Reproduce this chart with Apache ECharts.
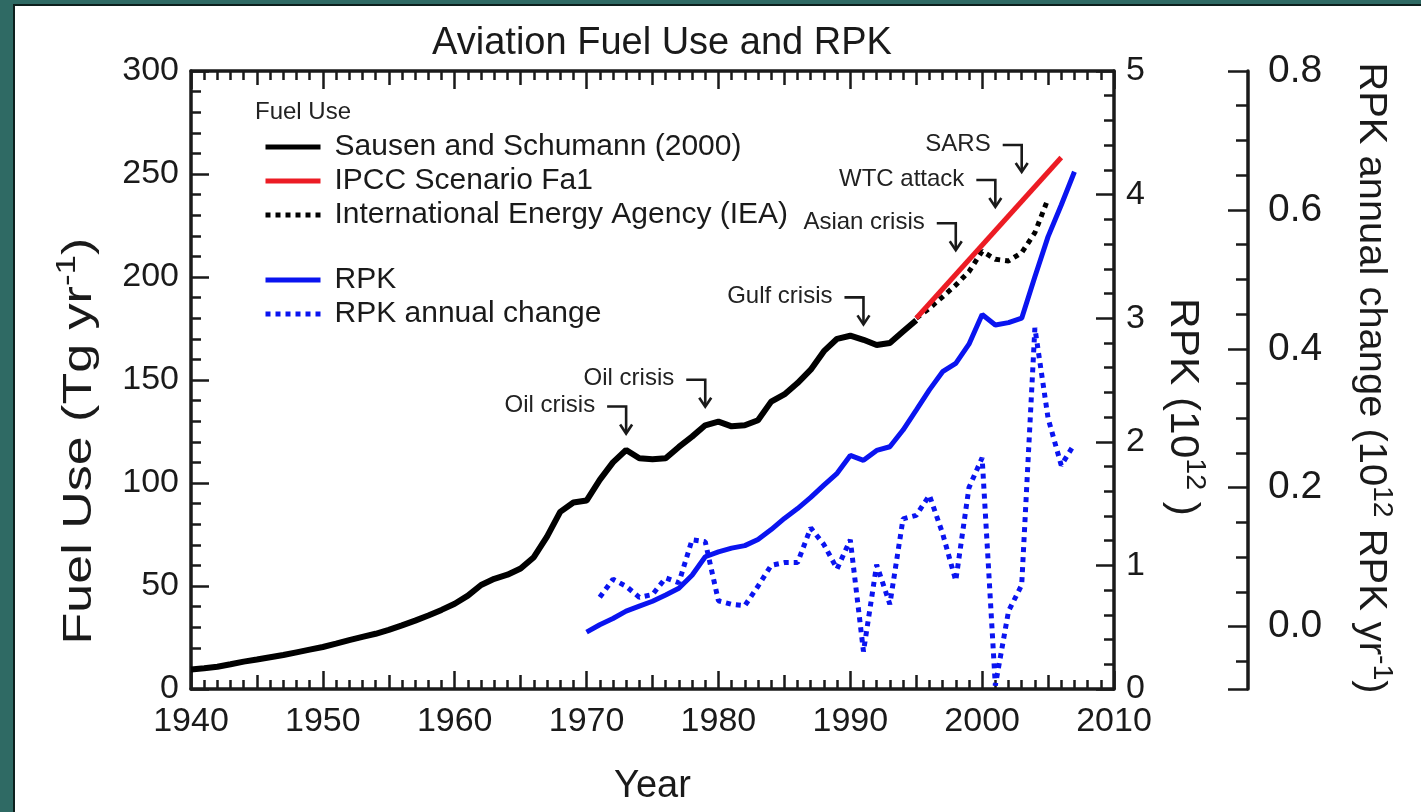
<!DOCTYPE html>
<html>
<head>
<meta charset="utf-8">
<title>Aviation Fuel Use and RPK</title>
<script src="https://cdn.jsdelivr.net/npm/echarts@6/dist/echarts.min.js"></script>
<style>
  html, body { margin: 0; padding: 0; background: #2f6a64; }
  #main { width: 1421px; height: 812px; }
</style>
</head>
<body>
<div id="main"></div>
<script>
// values
var fuelYears = [1940, 1941, 1942, 1943, 1944, 1945, 1946, 1947, 1948, 1949,
  1950, 1951, 1952, 1953, 1954, 1955, 1956, 1957, 1958, 1959,
  1960, 1961, 1962, 1963, 1964, 1965, 1966, 1967, 1968, 1969,
  1970, 1971, 1972, 1973, 1974, 1975, 1976, 1977, 1978, 1979,
  1980, 1981, 1982, 1983, 1984, 1985, 1986, 1987, 1988, 1989,
  1990, 1991, 1992, 1993, 1994, 1995];
var fuelSausen = [9.5, 10.1, 10.8, 12.0, 13.3, 14.3, 15.4, 16.5, 17.8, 19.1,
  20.4, 22.0, 23.7, 25.3, 26.8, 28.7, 30.9, 33.2, 35.7, 38.4,
  41.4, 45.3, 50.5, 53.5, 55.5, 58.5, 64, 74, 86, 90.5,
  91.5, 101.5, 110, 116, 112, 111.5, 112, 117.5, 122.5, 128,
  129.8, 127.5, 128, 130.5, 139.5, 143, 148.5, 155, 164, 170,
  171.5, 169.5, 167, 168, 173.5, 179];

var ipccYears = [1995, 2006];
var ipccFa1 = [180, 258];

var ieaYears = [1995, 1996, 1997, 1998, 1999, 2000, 2001, 2002, 2003, 2004, 2005];
var ieaFuel = [180, 184.8, 190.4, 196.1, 202.6, 212.5, 208.6, 207.8, 211.8, 221.5, 238];

var rpkYears = [1970, 1971, 1972, 1973, 1974, 1975, 1976, 1977, 1978, 1979,
  1980, 1981, 1982, 1983, 1984, 1985, 1986, 1987, 1988, 1989,
  1990, 1991, 1992, 1993, 1994, 1995, 1996, 1997, 1998, 1999,
  2000, 2001, 2002, 2003, 2004, 2005, 2006, 2007];
var rpk = [0.46, 0.52, 0.57, 0.63, 0.67, 0.71, 0.76, 0.815, 0.92, 1.07,
  1.11, 1.14, 1.16, 1.21, 1.29, 1.38, 1.46, 1.55, 1.65, 1.745,
  1.89, 1.85, 1.93, 1.96, 2.095, 2.257, 2.42, 2.567, 2.635, 2.79,
  3.03, 2.945, 2.964, 3.0, 3.336, 3.66, 3.916, 4.185];

var changeYears = [1971, 1972, 1973, 1974, 1975, 1976, 1977, 1978, 1979,
  1980, 1981, 1982, 1983, 1984, 1985, 1986, 1987, 1988, 1989,
  1990, 1991, 1992, 1993, 1994, 1995, 1996, 1997, 1998, 1999,
  2000, 2001, 2002, 2003, 2004, 2005, 2006, 2007];
var rpkChange = [0.042, 0.068, 0.058, 0.042, 0.046, 0.070, 0.063, 0.125, 0.122,
  0.037, 0.032, 0.030, 0.058, 0.088, 0.092, 0.092, 0.142, 0.118, 0.083,
  0.125, -0.036, 0.089, 0.032, 0.155, 0.160, 0.189, 0.134, 0.066, 0.200,
  0.243, -0.085, 0.022, 0.060, 0.430, 0.300, 0.232, 0.263];

var eventNames = ['Oil crisis', 'Oil crisis', 'Gulf crisis', 'Asian crisis', 'WTC attack', 'SARS'];
var eventYears = [1973, 1979, 1991, 1998, 2001, 2003];
var eventFuel = [124, 137, 177, 213, 234, 251];

var changeLabels = [0, 0.2, 0.4, 0.6, 0.8];
var changeMinorTicks = [-0.05, 0.05, 0.1, 0.15, 0.25, 0.3, 0.35, 0.45, 0.5, 0.55, 0.65, 0.7, 0.75];

var FONT = '"Liberation Sans", Arial, Helvetica, sans-serif';
var INK = '#1a1a1a';

function pairs(xs, ys) {
  return xs.map(function (x, i) { return [x, ys[i]]; });
}

var chart = echarts.init(document.getElementById('main'), null, { renderer: 'canvas' });

var axisLine = { show: true, onZero: false, lineStyle: { color: INK, width: 3.5 } };
var noLine = { show: false, onZero: false };
function tick(len) {
  return { show: true, inside: true, length: len, lineStyle: { color: INK, width: 2.5 } };
}
function minor(len, n) {
  return { show: true, splitNumber: n, length: len, lineStyle: { color: INK, width: 2.5 } };
}
var tickLabel = { fontSize: 34, color: INK, fontFamily: FONT };

// main year axes (10 y ticks + yearly minors) live in grid 0,
// the 5-year mid ticks come from a twin grid laid exactly on top
function yearAxis(pos, step, main) {
  return {
    type: 'value', gridIndex: main ? 0 : 1, position: pos, min: 1940, max: 2010, interval: step,
    axisLine: main ? axisLine : noLine,
    axisTick: tick(main ? 18 : 14),
    minorTick: main ? minor(9, 10) : { show: false },
    splitLine: { show: false },
    axisLabel: (main && pos === 'bottom') ? Object.assign({ margin: 16, formatter: function (v) { return String(v); } }, tickLabel) : { show: false },
    name: (main && pos === 'bottom') ? 'Year' : '',
    nameLocation: 'middle', nameGap: 79,
    nameTextStyle: { fontSize: 38, color: INK, fontFamily: FONT }
  };
}

function renderEvent(params, api) {
  var p = api.coord([api.value(0), api.value(1)]);
  var bendY = p[1] - 27;
  var line = { stroke: INK, lineWidth: 2.6, fill: null };
  return {
    type: 'group',
    children: [
      { type: 'polyline', shape: { points: [[p[0] - 19, bendY], [p[0], bendY], [p[0], p[1] - 1]] }, style: line },
      { type: 'polyline', shape: { points: [[p[0] - 6, p[1] - 9], [p[0], p[1]], [p[0] + 6, p[1] - 9]] }, style: line },
      { type: 'text', x: p[0] - 31, y: bendY - 1,
        style: { text: eventNames[params.dataIndex], fontSize: 24, fontFamily: FONT, fill: '#222', align: 'right', verticalAlign: 'middle' } }
    ]
  };
}

var legendBase = {
  orient: 'vertical', left: 258, itemWidth: 55, itemHeight: 14, itemGap: 4,
  selectedMode: false,
  lineStyle: { width: 5 },
  itemStyle: { opacity: 0 },
  textStyle: { fontSize: 30, lineHeight: 30, color: INK, fontFamily: FONT, padding: [0, 0, 0, 9] }
};

var supStyle = { fontSize: 27, lineHeight: 27, verticalAlign: 'top', fontFamily: FONT, fill: INK };

var gridBox = { left: 191, top: 71, width: 923, height: 618, containLabel: false, outerBoundsMode: 'none' };

var option = {
  animation: false,
  title: {
    text: 'Aviation Fuel Use and RPK',
    left: 657, top: 20, textAlign: 'center',
    textStyle: { fontSize: 38, fontWeight: 'normal', color: INK, fontFamily: FONT }
  },
  legend: [
    Object.assign({ top: 127, data: ['Sausen and Schumann (2000)', 'IPCC Scenario Fa1', 'International Energy Agency (IEA)'] }, legendBase),
    Object.assign({ top: 260, data: ['RPK', 'RPK annual change'] }, legendBase)
  ],
  grid: [gridBox, Object.assign({}, gridBox)],
  graphic: [
    { type: 'rect', z: -10, silent: true, x: 14, y: 5, shape: { width: 1420, height: 820 },
      style: { fill: '#ffffff', stroke: '#0d1f1d', lineWidth: 2 } },
    { type: 'text', x: 255, y: 112, silent: true,
      style: { text: 'Fuel Use', fontSize: 24, fontFamily: FONT, fill: '#222', verticalAlign: 'middle' } },
    { type: 'text', x: 80, y: 441, rotation: Math.PI / 2, scaleX: 1.3, silent: true,
      style: { text: 'Fuel Use (Tg yr{sup|-1})', fontSize: 40, lineHeight: 52, fontFamily: FONT, fill: INK,
        align: 'center', verticalAlign: 'middle', rich: { sup: supStyle } } },
    { type: 'text', x: 1182, y: 407, rotation: -Math.PI / 2, scaleX: 1.06, silent: true,
      style: { text: 'RPK (10{sup|12} )', fontSize: 40, lineHeight: 52, fontFamily: FONT, fill: INK,
        align: 'center', verticalAlign: 'middle', rich: { sup: supStyle } } },
    { type: 'text', x: 1370, y: 378, rotation: -Math.PI / 2, scaleX: 1.05, silent: true,
      style: { text: 'RPK annual change (10{sup|12} RPK yr{sup|-1})', fontSize: 38, lineHeight: 50, fontFamily: FONT, fill: INK,
        align: 'center', verticalAlign: 'middle', rich: { sup: supStyle } } }
  ],
  xAxis: [
    yearAxis('bottom', 10, true),
    yearAxis('top', 10, true),
    yearAxis('bottom', 5, false),
    yearAxis('top', 5, false)
  ],
  yAxis: [
    {
      type: 'value', position: 'left', min: 0, max: 300, interval: 50,
      axisLine: axisLine, axisTick: tick(18), minorTick: minor(10, 5),
      splitLine: { show: false },
      axisLabel: Object.assign({ margin: 12 }, tickLabel)
    },
    {
      type: 'value', position: 'right', min: 0, max: 5, interval: 1,
      axisLine: axisLine, axisTick: tick(18), minorTick: minor(10, 5),
      splitLine: { show: false },
      axisLabel: Object.assign({ margin: 12 }, tickLabel)
    },
    {
      type: 'value', position: 'right', offset: 134, min: -0.09, max: 0.8,
      axisLine: axisLine,
      axisTick: Object.assign(tick(20), { customValues: [-0.09].concat(changeLabels) }),
      splitLine: { show: false },
      axisLabel: Object.assign({}, tickLabel, { fontSize: 39, margin: 20, customValues: changeLabels, formatter: function (v) { return v.toFixed(1); } })
    },
    {
      type: 'value', position: 'right', offset: 134, min: -0.09, max: 0.8,
      axisLine: noLine,
      axisTick: Object.assign(tick(12), { customValues: changeMinorTicks }),
      splitLine: { show: false },
      axisLabel: { show: false }
    },
    { type: 'value', gridIndex: 1, show: false, min: 0, max: 1 }
  ],
  series: [
    { name: 'Sausen and Schumann (2000)', type: 'line', xAxisIndex: 0, yAxisIndex: 0, symbol: 'none', z: 3,
      data: pairs(fuelYears, fuelSausen), lineStyle: { color: '#000', width: 6 }, itemStyle: { color: '#000' } },
    { name: 'IPCC Scenario Fa1', type: 'line', xAxisIndex: 0, yAxisIndex: 0, symbol: 'none', z: 4,
      data: pairs(ipccYears, ipccFa1), lineStyle: { color: '#ec1c24', width: 5 }, itemStyle: { color: '#ec1c24' } },
    { name: 'International Energy Agency (IEA)', type: 'line', xAxisIndex: 0, yAxisIndex: 0, symbol: 'none', z: 3,
      data: pairs(ieaYears, ieaFuel), lineStyle: { color: '#000', width: 5, type: 'dotted' }, itemStyle: { color: '#000' } },
    { name: 'RPK', type: 'line', xAxisIndex: 0, yAxisIndex: 1, symbol: 'none', z: 3,
      data: pairs(rpkYears, rpk), lineStyle: { color: '#0a14f0', width: 5 }, itemStyle: { color: '#0a14f0' } },
    { name: 'RPK annual change', type: 'line', xAxisIndex: 0, yAxisIndex: 2, symbol: 'none', z: 3,
      data: pairs(changeYears, rpkChange), lineStyle: { color: '#0a14f0', width: 5, type: 'dotted' }, itemStyle: { color: '#0a14f0' } },
    { name: 'events', type: 'custom', xAxisIndex: 0, yAxisIndex: 0, silent: true, z: 5,
      renderItem: renderEvent,
      data: eventYears.map(function (y, i) { return [y, eventFuel[i]]; }) }
  ]
};

chart.setOption(option);
</script>
</body>
</html>
